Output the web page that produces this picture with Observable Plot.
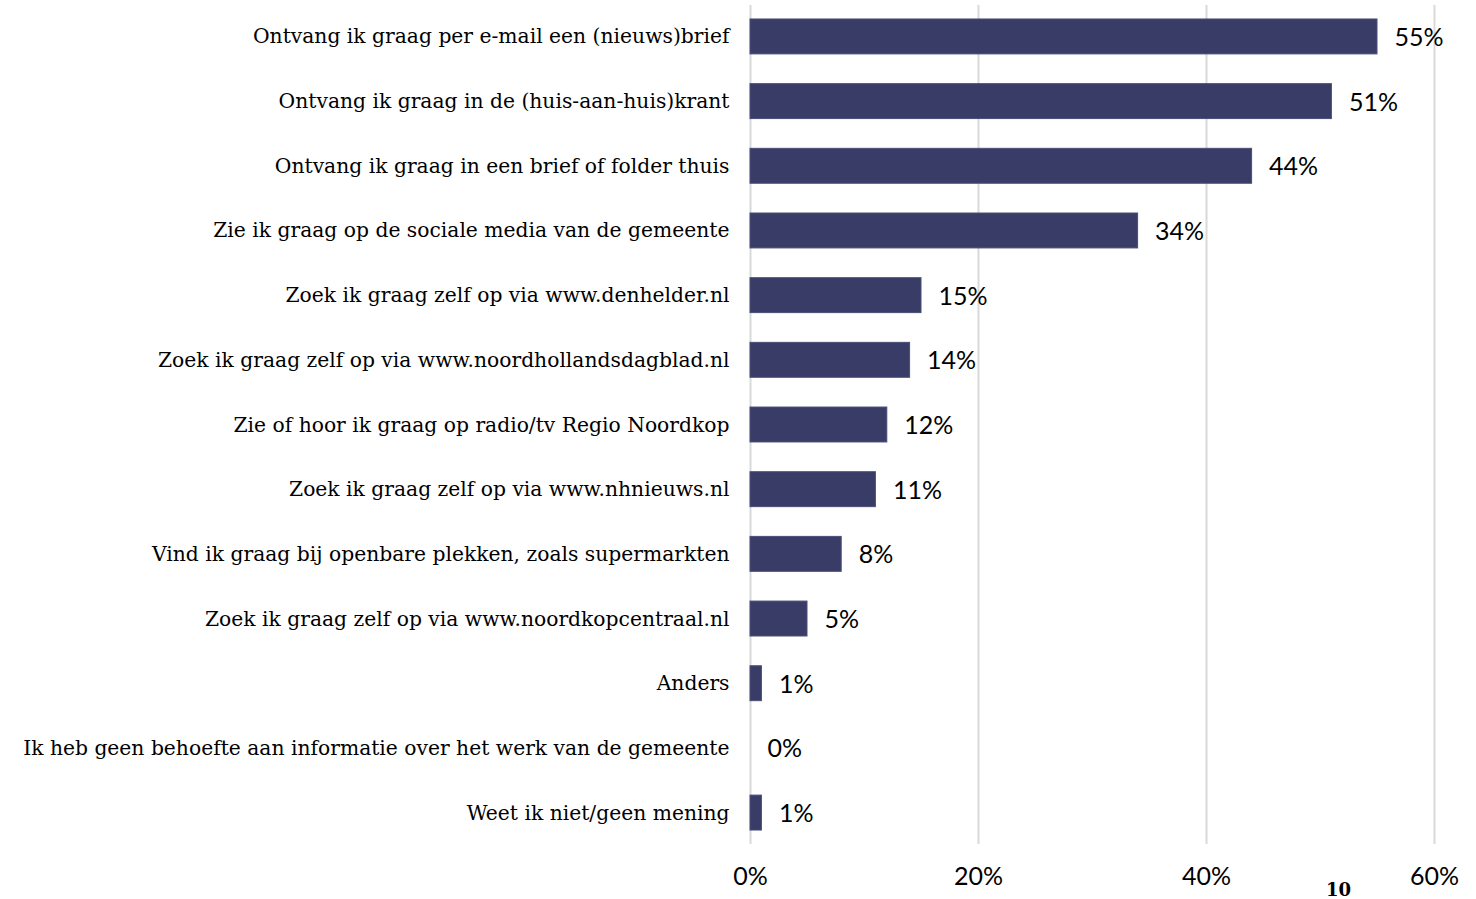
<!DOCTYPE html>
<html>
<head>
<meta charset="utf-8">
<script src="https://cdn.jsdelivr.net/npm/d3@7"></script>
<script src="https://cdn.jsdelivr.net/npm/@observablehq/plot@0.6"></script>
<style>
  html, body { margin: 0; padding: 0; background: #fff; }
  #wrap { position: relative; width: 1476px; height: 899px; overflow: hidden; }
  #page { position: absolute; left: 1326px; top: 881px; line-height: 1; font-family: "DejaVu Serif", serif; font-weight: bold; font-size: 18px; color: #000; }
</style>
</head>
<body>
<div id="wrap">
  <div id="chart"></div>
  <div id="page">10</div>
</div>
<script>
const categories = [
  "Ontvang ik graag per e-mail een (nieuws)brief",
  "Ontvang ik graag in de (huis-aan-huis)krant",
  "Ontvang ik graag in een brief of folder thuis",
  "Zie ik graag op de sociale media van de gemeente",
  "Zoek ik graag zelf op via www.denhelder.nl",
  "Zoek ik graag zelf op via www.noordhollandsdagblad.nl",
  "Zie of hoor ik graag op radio/tv Regio Noordkop",
  "Zoek ik graag zelf op via www.nhnieuws.nl",
  "Vind ik graag bij openbare plekken, zoals supermarkten",
  "Zoek ik graag zelf op via www.noordkopcentraal.nl",
  "Anders",
  "Ik heb geen behoefte aan informatie over het werk van de gemeente",
  "Weet ik niet/geen mening"
];
const values = [55, 51, 44, 34, 15, 14, 12, 11, 8, 5, 1, 0, 1];
const xTicks = [0, 20, 40, 60];

const data = categories.map((c, i) => ({category: c, value: values[i]}));

const chart = Plot.plot({
  width: 1476,
  height: 899,
  marginLeft: 750,
  marginRight: 42,
  marginTop: 5,
  marginBottom: 55,
  style: {fontFamily: "DejaVu Serif, serif", fontSize: "20.3px", color: "#000", background: "#fff"},
  x: {domain: [0, 60], ticks: xTicks, tickFormat: d => d + "%", label: null, tickSize: 0, tickPadding: 24},
  y: {domain: categories, label: null, paddingInner: 0.46, paddingOuter: 0.216, round: false, tickSize: 0, tickPadding: 21},
  marks: [
    Plot.gridX(xTicks, {stroke: "#d9d9d9", strokeOpacity: 1, strokeWidth: 2}),
    Plot.barX(data, {x: "value", y: "category", fill: "#383c66", stroke: "#4a4f78", strokeWidth: 1}),
    Plot.text(data, {x: "value", y: "category", text: d => d.value + "%", dx: 17, dy: 1, textAnchor: "start",
      fontFamily: "Lato, sans-serif", fontSize: 25, fill: "#000"}),
    Plot.axisX({ticks: xTicks, tickFormat: d => d + "%", tickSize: 0, tickPadding: 23,
      fontFamily: "Lato, sans-serif", fontSize: 25, label: null}),
    Plot.axisY({tickSize: 0, tickPadding: 21, label: null, fontSize: 20.3})
  ]
});
document.getElementById("chart").appendChild(chart);
</script>
</body>
</html>
